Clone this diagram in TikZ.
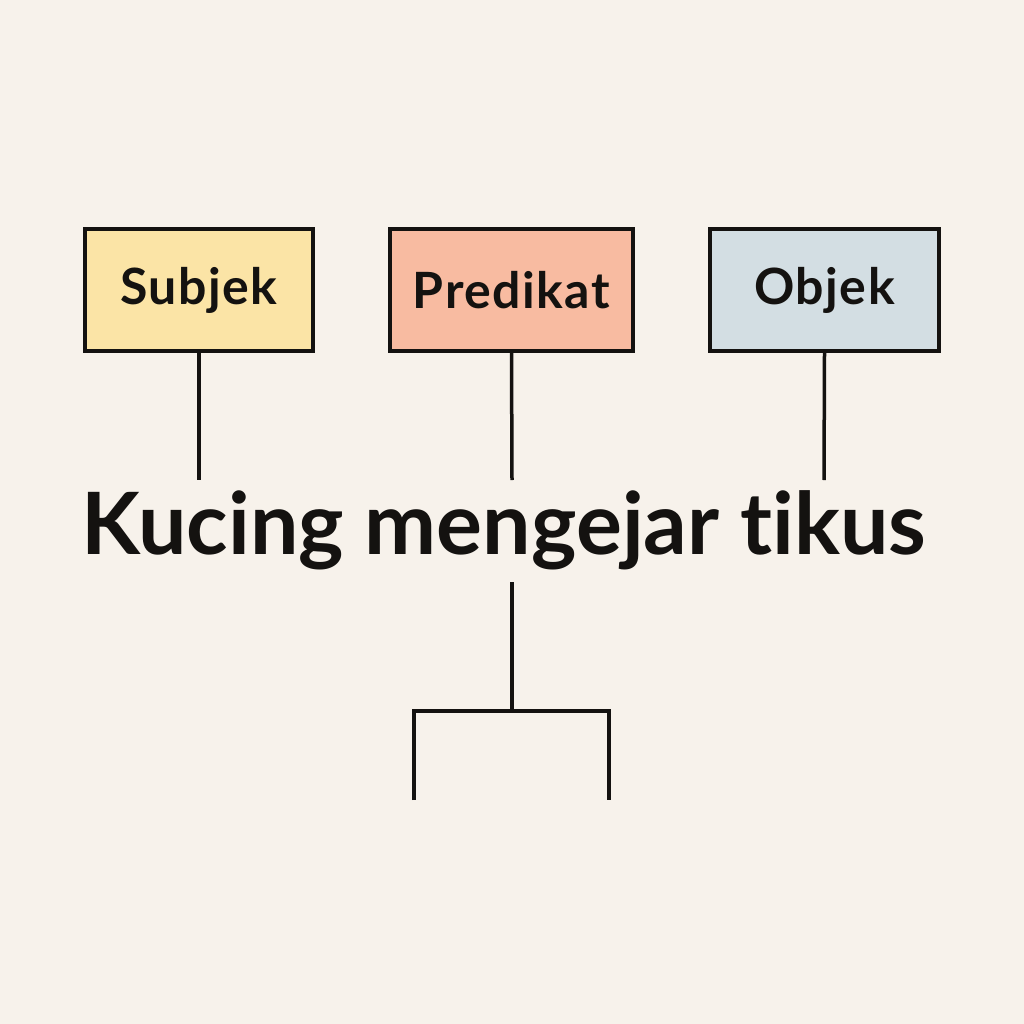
\documentclass[tikz,border=0pt]{standalone}
\usepackage{fontspec}
\setmainfont{Lato}[Ligatures=NoCommon]
\definecolor{bg}{HTML}{F7F2EB}
\definecolor{subj}{HTML}{FBE4A6}
\definecolor{pred}{HTML}{F8BBA1}
\definecolor{obj}{HTML}{D3DEE3}
\definecolor{ink}{HTML}{141210}
\newfontfamily\labfont{Lato}[Ligatures=NoCommon,LetterSpace=3]
\begin{document}
\begin{tikzpicture}[x=1pt,y=-1pt,
  lab/.style={draw=ink,line width=3.5pt,minimum width=228pt,minimum height=122pt,inner sep=0pt,
    font=\labfont\fontsize{50}{56}\selectfont\bfseries,text=ink},
  conn/.style={draw=ink,line width=3.5pt}]
\useasboundingbox[fill=bg] (0,0) rectangle (1024,1024);
\node[lab,fill=subj] (s) at (199,290) {Subjek};
\node[lab,fill=pred,minimum width=243pt] (p) at (511.5,290) {Predikat};
\node[lab,fill=obj,minimum width=229pt] (o) at (824.5,290) {Objek};
\node[font=\fontsize{86}{96}\selectfont\bfseries,text=ink,inner sep=0pt,anchor=base] (t) at (504,554) {Kucing mengejar tikus};
\coordinate (se) at (199,480);
\coordinate (pe) at (512,480);
\coordinate (oe) at (824,480);
\coordinate (b0) at (512,582);
\coordinate (b1) at (512,711);
\coordinate (bl) at (414,711);
\coordinate (br) at (609,711);
\coordinate (bld) at (414,800);
\coordinate (brd) at (609,800);
\draw[conn] (s.south) -- (se);
\draw[conn] (p.south) -- (pe);
\draw[conn] (o.south) -- (oe);
\draw[conn] (b0) -- (b1);
\draw[conn] (bld) -- (bl) -- (br) -- (brd);
\end{tikzpicture}
\end{document}
